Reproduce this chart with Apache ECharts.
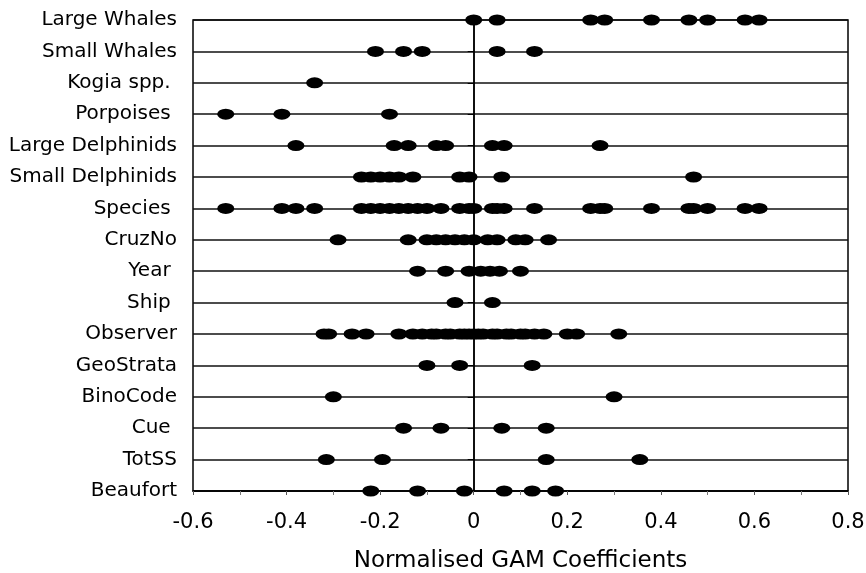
<!DOCTYPE html>
<html>
<head>
<meta charset="utf-8">
<script src="https://cdn.jsdelivr.net/npm/echarts@6/dist/echarts.min.js"></script>
<style>html,body{margin:0;padding:0;background:#fff}#c{width:866px;height:573px}</style>
</head>
<body>
<div id="c"></div>
<script>
const categories = ['Large Whales','Small Whales','Kogia spp. ','Porpoises ','Large Delphinids','Small Delphinids','Species ','CruzNo','Year ','Ship ','Observer','GeoStrata','BinoCode','Cue ','TotSS','Beaufort'];
const xTicks = [-0.6, -0.4, -0.2, 0, 0.2, 0.4, 0.6, 0.8];

const largeWhales = [0.0, 0.05, 0.25, 0.28, 0.38, 0.46, 0.50, 0.58, 0.61];
const smallWhales = [-0.21, -0.15, -0.11, 0.05, 0.13];
const kogia = [-0.34];
const porpoises = [-0.53, -0.41, -0.18];
const largeDelphinids = [-0.38, -0.17, -0.14, -0.08, -0.06, 0.04, 0.065, 0.27];
const smallDelphinids = [-0.24, -0.22, -0.20, -0.18, -0.16, -0.13, -0.03, -0.01, 0.06, 0.47];
const species = [-0.53, -0.41, -0.38, -0.34, -0.24, -0.22, -0.20, -0.18, -0.16, -0.14, -0.12, -0.10, -0.07, -0.03, -0.01, 0.0, 0.04, 0.05, 0.065, 0.13, 0.25, 0.27, 0.28, 0.38, 0.46, 0.47, 0.50, 0.58, 0.61];
const cruzNo = [-0.29, -0.14, -0.10, -0.08, -0.06, -0.04, -0.02, 0.0, 0.03, 0.05, 0.09, 0.11, 0.16];
const year = [-0.12, -0.06, -0.01, 0.015, 0.035, 0.055, 0.10];
const ship = [-0.04, 0.04];
const observer = [-0.32, -0.31, -0.26, -0.23, -0.16, -0.13, -0.11, -0.09, -0.08, -0.06, -0.05, -0.03, -0.02, -0.01, 0.0, 0.01, 0.02, 0.04, 0.05, 0.07, 0.08, 0.10, 0.11, 0.13, 0.15, 0.20, 0.22, 0.31];
const geoStrata = [-0.10, -0.03, 0.125];
const binoCode = [-0.30, 0.30];
const cue = [-0.15, -0.07, 0.06, 0.155];
const totSS = [-0.315, -0.195, 0.155, 0.355];
const beaufort = [-0.22, -0.12, -0.02, 0.065, 0.125, 0.175];

const rows = [largeWhales, smallWhales, kogia, porpoises, largeDelphinids, smallDelphinids, species, cruzNo, year, ship, observer, geoStrata, binoCode, cue, totSS, beaufort];
const points = [];
rows.forEach((vals, i) => vals.forEach(v => points.push([v, i])));

const chart = echarts.init(document.getElementById('c'), null, {renderer: 'canvas'});
chart.setOption({
  animation: false,
  backgroundColor: '#fff',
  grid: {left: 193, right: 18, top: 20, bottom: 82, containLabel: false, outerBoundsMode: 'none', show: true, borderColor: '#000', borderWidth: 1.5, backgroundColor: 'transparent'},
  xAxis: {
    type: 'value', min: xTicks[0], max: xTicks[xTicks.length - 1], interval: 0.2,
    axisLine: {show: true, lineStyle: {color: '#000', width: 1.5}},
    axisTick: {show: true, length: 4, lineStyle: {color: '#555', width: 1}},
    minorTick: {show: true, splitNumber: 2, length: 4, lineStyle: {color: '#777'}},
    splitLine: {show: false},
    axisLabel: {
      margin: 21, color: '#000', fontFamily: 'DejaVu Sans', fontSize: 21,
      formatter: v => Math.abs(v) < 1e-9 ? '0' : (Math.round(v * 10) / 10).toFixed(1)
    },
    name: 'Normalised GAM Coefficients', nameLocation: 'middle', nameGap: 59,
    nameTextStyle: {color: '#000', fontFamily: 'DejaVu Sans', fontSize: 23}
  },
  yAxis: {
    type: 'category', data: categories, inverse: true, boundaryGap: false,
    axisLine: {show: true, lineStyle: {color: '#000', width: 1.5}},
    axisTick: {show: true, length: 6, lineStyle: {color: '#000', width: 1}},
    splitLine: {show: true, lineStyle: {color: '#111', width: 1.5}},
    axisLabel: {margin: 16, color: '#000', fontFamily: 'DejaVu Sans', fontSize: 20, interval: 0}
  },
  series: [{
    type: 'scatter',
    data: points,
    symbol: 'circle',
    symbolSize: [17, 11],
    itemStyle: {color: '#000', opacity: 1},
    markLine: {
      silent: true, symbol: 'none', label: {show: false},
      lineStyle: {color: '#000', width: 1.5, type: 'solid'},
      data: [{xAxis: 0}]
    }
  }]
});
</script>
</body>
</html>
